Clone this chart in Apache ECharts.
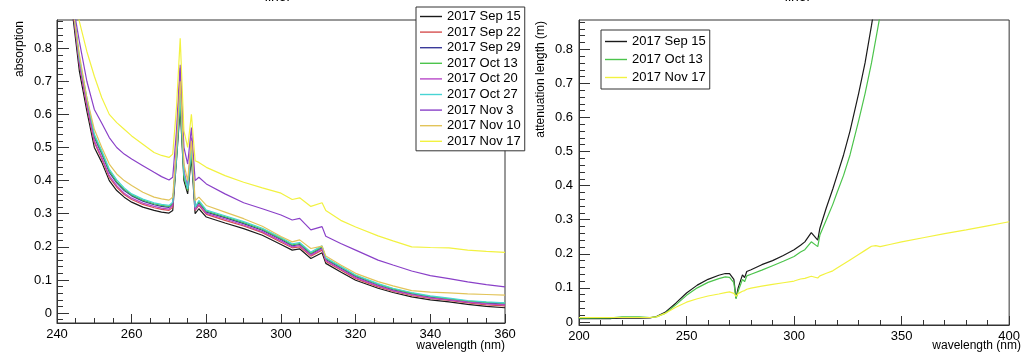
<!DOCTYPE html>
<html lang="en">
<head>
  <meta charset="UTF-8">
  <title>liner</title>
  <script src="https://cdn.jsdelivr.net/npm/echarts@6/dist/echarts.min.js"></script>
  <style>
    html, body { margin: 0; padding: 0; background: #fff; }
    #chart { width: 1023px; height: 353px; }
  </style>
</head>
<body>
  <div id="chart"></div>
  <script>
    // ---- left plot: absorption vs wavelength ----
    const wlLeft = [240, 244, 246, 248, 250, 252, 254, 256, 258, 260, 263, 266, 268, 270, 271, 272, 273, 274, 275, 276, 277, 278, 280, 285, 290, 295, 300, 303, 305, 308, 311, 312, 316, 320, 326, 330, 335, 340, 345, 350, 355, 360];
    const absSep15 = [1.10, 0.92, 0.73, 0.61, 0.50, 0.455, 0.40, 0.37, 0.35, 0.335, 0.32, 0.31, 0.305, 0.302, 0.31, 0.46, 0.62, 0.40, 0.36, 0.47, 0.30, 0.315, 0.29, 0.272, 0.255, 0.235, 0.207, 0.19, 0.194, 0.165, 0.182, 0.15, 0.124, 0.099, 0.075, 0.062, 0.049, 0.040, 0.034, 0.026, 0.020, 0.016];
    const absSep22 = [1.12, 0.94, 0.75, 0.625, 0.515, 0.465, 0.41, 0.38, 0.358, 0.343, 0.328, 0.318, 0.313, 0.31, 0.32, 0.50, 0.74, 0.42, 0.37, 0.52, 0.31, 0.325, 0.298, 0.28, 0.263, 0.243, 0.214, 0.197, 0.2, 0.172, 0.19, 0.156, 0.13, 0.104, 0.079, 0.066, 0.053, 0.044, 0.038, 0.031, 0.025, 0.022];
    const absSep29 = [1.13, 0.95, 0.76, 0.64, 0.53, 0.48, 0.425, 0.393, 0.37, 0.354, 0.338, 0.327, 0.322, 0.319, 0.33, 0.48, 0.68, 0.42, 0.375, 0.50, 0.315, 0.333, 0.305, 0.288, 0.27, 0.25, 0.222, 0.203, 0.207, 0.178, 0.197, 0.162, 0.136, 0.11, 0.084, 0.07, 0.058, 0.048, 0.041, 0.034, 0.03, 0.027];
    const absOct13 = [1.13, 0.95, 0.765, 0.645, 0.535, 0.485, 0.43, 0.397, 0.374, 0.357, 0.341, 0.33, 0.325, 0.322, 0.332, 0.47, 0.65, 0.41, 0.37, 0.49, 0.318, 0.336, 0.308, 0.291, 0.273, 0.253, 0.225, 0.206, 0.21, 0.181, 0.2, 0.165, 0.139, 0.113, 0.087, 0.073, 0.06, 0.05, 0.043, 0.036, 0.032, 0.03];
    const absOct20 = [1.12, 0.94, 0.755, 0.63, 0.52, 0.47, 0.415, 0.385, 0.362, 0.347, 0.332, 0.322, 0.317, 0.314, 0.325, 0.49, 0.72, 0.43, 0.38, 0.53, 0.312, 0.328, 0.301, 0.284, 0.266, 0.246, 0.218, 0.2, 0.204, 0.175, 0.194, 0.159, 0.133, 0.107, 0.082, 0.068, 0.056, 0.046, 0.04, 0.033, 0.028, 0.025];
    const absOct27 = [1.14, 0.96, 0.77, 0.65, 0.54, 0.49, 0.435, 0.402, 0.378, 0.36, 0.344, 0.333, 0.328, 0.325, 0.335, 0.47, 0.66, 0.42, 0.375, 0.50, 0.32, 0.34, 0.311, 0.294, 0.276, 0.256, 0.228, 0.209, 0.213, 0.184, 0.203, 0.167, 0.141, 0.115, 0.089, 0.075, 0.062, 0.052, 0.045, 0.038, 0.034, 0.031];
    const absNov3 = [1.2, 0.95, 0.82, 0.70, 0.615, 0.573, 0.53, 0.50, 0.48, 0.465, 0.445, 0.425, 0.412, 0.402, 0.41, 0.55, 0.75, 0.50, 0.45, 0.56, 0.40, 0.41, 0.39, 0.36, 0.333, 0.315, 0.296, 0.281, 0.286, 0.251, 0.261, 0.232, 0.21, 0.19, 0.16, 0.145, 0.127, 0.113, 0.104, 0.094, 0.086, 0.079];
    const absNov10 = [1.15, 0.94, 0.78, 0.65, 0.555, 0.50, 0.45, 0.42, 0.40, 0.385, 0.365, 0.35, 0.345, 0.341, 0.35, 0.50, 0.70, 0.45, 0.40, 0.52, 0.34, 0.35, 0.325, 0.305, 0.285, 0.262, 0.231, 0.215, 0.221, 0.195, 0.202, 0.172, 0.145, 0.12, 0.095, 0.082, 0.068, 0.063, 0.061, 0.058, 0.056, 0.054];
    const absNov17 = [1.2, 0.99, 0.88, 0.79, 0.715, 0.65, 0.60, 0.575, 0.555, 0.535, 0.51, 0.485, 0.476, 0.47, 0.48, 0.62, 0.83, 0.55, 0.50, 0.60, 0.46, 0.455, 0.44, 0.415, 0.395, 0.378, 0.362, 0.343, 0.348, 0.322, 0.333, 0.31, 0.28, 0.26, 0.233, 0.218, 0.2, 0.198, 0.197, 0.19, 0.186, 0.183];

    // ---- right plot: attenuation length vs wavelength ----
    const wlRight = [200, 215, 220, 228, 233, 236, 240, 245, 250, 255, 260, 265, 268, 270, 272, 273, 274, 276, 277, 278, 280, 285, 290, 295, 300, 303, 305, 308, 311, 312, 315, 318, 320, 323, 326, 330, 333, 336, 338, 340, 345, 350, 360, 370, 380, 390, 400];
    const attSep15 = [0.010, 0.010, 0.011, 0.011, 0.012, 0.016, 0.028, 0.055, 0.085, 0.108, 0.125, 0.137, 0.142, 0.142, 0.125, 0.07, 0.10, 0.138, 0.13, 0.148, 0.153, 0.168, 0.18, 0.195, 0.212, 0.225, 0.235, 0.262, 0.24, 0.275, 0.335, 0.39, 0.43, 0.49, 0.56, 0.67, 0.76, 0.87, 0.95, 1.05, null, null, null, null, null, null, null];
    const attOct13 = [0.011, 0.012, 0.015, 0.015, 0.013, 0.015, 0.025, 0.05, 0.078, 0.10, 0.116, 0.127, 0.132, 0.131, 0.115, 0.068, 0.09, 0.125, 0.118, 0.135, 0.14, 0.152, 0.165, 0.178, 0.192, 0.205, 0.212, 0.235, 0.221, 0.255, 0.30, 0.345, 0.38, 0.43, 0.49, 0.59, 0.67, 0.76, 0.83, 0.90, 1.1, null, null, null, null, null, null];
    const attNov17 = [0.013, 0.013, 0.013, 0.013, 0.013, 0.015, 0.025, 0.043, 0.058, 0.068, 0.076, 0.082, 0.086, 0.088, 0.084, 0.075, 0.083, 0.09, 0.092, 0.096, 0.099, 0.105, 0.11, 0.115, 0.12, 0.126, 0.128, 0.134, 0.129, 0.135, 0.143, 0.15, 0.158, 0.17, 0.182, 0.198, 0.21, 0.222, 0.224, 0.221, 0.228, 0.235, 0.247, 0.259, 0.27, 0.282, 0.294];

    // ---- tick labels ----
    const xTicksLeft = [240, 260, 280, 300, 320, 340, 360];
    const xTicksRight = [200, 250, 300, 350, 400];
    const yTicks = [0, 0.1, 0.2, 0.3, 0.4, 0.5, 0.6, 0.7, 0.8];

    const FONT = 'Liberation Sans';
    const INK = '#333';

    function minorTicks(from, to, step) {
      const out = [];
      for (let v = from; v <= to + 1e-9; v += step) out.push(Math.round(v * 1000) / 1000);
      return out;
    }

    // one axis with labels + long ticks, one overlay with short minor ticks
    function axisPair(dim, grid, min, max, major, minor, longLen, shortLen, margin) {
      const pos = dim === 'x' ? 'bottom' : 'left';
      const main = {
        type: 'value', gridIndex: grid, position: pos, min: min, max: max,
        axisLine: { show: true, onZero: false, lineStyle: { color: INK, width: 1 } },
        axisTick: { show: true, inside: true, length: longLen, customValues: major, lineStyle: { color: INK } },
        axisLabel: {
          customValues: major, margin: margin, color: '#000', fontFamily: FONT, fontSize: 13,
          formatter: v => dim === 'y' ? (v === 0 ? '0' : v.toFixed(1)) : String(v)
        },
        splitLine: { show: false }
      };
      const sub = {
        type: 'value', gridIndex: grid, position: pos, min: min, max: max,
        axisLine: { show: false, onZero: false },
        axisTick: { show: true, inside: true, length: shortLen, customValues: minor, lineStyle: { color: INK } },
        axisLabel: { show: false },
        splitLine: { show: false }
      };
      return [main, sub];
    }

    function line(name, wl, vals, color, axis) {
      return {
        name: name, type: 'line', xAxisIndex: axis, yAxisIndex: axis,
        data: wl.map((x, i) => [x, vals[i]]),
        symbol: 'none', showSymbol: false, clip: true, connectNulls: false,
        lineStyle: { width: 1.2, color: color }, itemStyle: { color: color },
        emphasis: { disabled: true }, animation: false
      };
    }

    const C = {
      sep15: '#1a1a1a', sep22: '#d65050', sep29: '#3a3a9a', oct13: '#4cc44c',
      oct20: '#b848c8', oct27: '#48d4d4', nov3: '#8a40c8', nov10: '#e2c45a', nov17: '#f2f240'
    };

    const leftNames = ['2017 Sep 15', '2017 Sep 22', '2017 Sep 29', '2017 Oct 13', '2017 Oct 20', '2017 Oct 27', '2017 Nov 3', '2017 Nov 10', '2017 Nov 17'];
    const rightNames = ['2017 Sep 15', '2017 Oct 13', '2017 Nov 17'];

    const legendBase = {
      orient: 'vertical', backgroundColor: '#fff', borderColor: INK, borderWidth: 1,
      icon: 'path://M0,0H22V1.4H0Z', itemWidth: 22, itemHeight: 12, align: 'left', selectedMode: false,
      textStyle: { color: '#000', fontFamily: FONT, fontSize: 13, lineHeight: 12 }
    };

    const chart = echarts.init(document.getElementById('chart'));
    const xL = axisPair('x', 0, 240, 360, xTicksLeft, minorTicks(240, 360, 5), 9, 5, 5);
    const yL = axisPair('y', 0, -0.03, 0.885, yTicks, minorTicks(-0.02, 0.88, 0.02), 12, 6, 5);
    const xR = axisPair('x', 1, 200, 400, xTicksRight, minorTicks(200, 400, 10), 9, 5, 5);
    const yR = axisPair('y', 1, -0.009, 0.886, yTicks, minorTicks(0, 0.88, 0.02), 11, 6, 6);

    chart.setOption({
      animation: false,
      grid: [
        { left: 57, top: 20, width: 448, height: 303, show: true, borderColor: INK, borderWidth: 1, backgroundColor: 'transparent' },
        { left: 579, top: 20, width: 442, height: 305, show: true, borderColor: INK, borderWidth: 1, backgroundColor: 'transparent' }
      ],
      xAxis: [...xL, ...xR],
      yAxis: [...yL, ...yR],
      legend: [
        Object.assign({}, legendBase, { data: leftNames, left: 416, top: 7, itemGap: 2.6, padding: [3, 4, 3, 4] }),
        Object.assign({}, legendBase, { data: rightNames, left: 601, top: 30, itemGap: 5, padding: [5, 4, 5, 4] })
      ],
      graphic: [
        { type: 'text', x: 278, y: -10, style: { text: 'liner', fontFamily: FONT, fontSize: 14, fill: '#000', textAlign: 'center', textVerticalAlign: 'top' } },
        { type: 'text', x: 798, y: -10, style: { text: 'liner', fontFamily: FONT, fontSize: 14, fill: '#000', textAlign: 'center', textVerticalAlign: 'top' } },
        { type: 'text', x: 20, y: 21, rotation: Math.PI / 2, style: { text: 'absorption', fontFamily: FONT, fontSize: 12, fill: '#000', textAlign: 'right', textVerticalAlign: 'middle' } },
        { type: 'text', x: 541, y: 21, rotation: Math.PI / 2, style: { text: 'attenuation length (m)', fontFamily: FONT, fontSize: 12, fill: '#000', textAlign: 'right', textVerticalAlign: 'middle' } },
        { type: 'text', x: 505, y: 346, style: { text: 'wavelength (nm)', fontFamily: FONT, fontSize: 12, fill: '#000', textAlign: 'right', textVerticalAlign: 'middle' } },
        { type: 'text', x: 1021, y: 346, style: { text: 'wavelength (nm)', fontFamily: FONT, fontSize: 12, fill: '#000', textAlign: 'right', textVerticalAlign: 'middle' } }
      ],
      series: [
        line('2017 Sep 15', wlLeft, absSep15, C.sep15, 0),
        line('2017 Sep 22', wlLeft, absSep22, C.sep22, 0),
        line('2017 Sep 29', wlLeft, absSep29, C.sep29, 0),
        line('2017 Oct 13', wlLeft, absOct13, C.oct13, 0),
        line('2017 Oct 20', wlLeft, absOct20, C.oct20, 0),
        line('2017 Oct 27', wlLeft, absOct27, C.oct27, 0),
        line('2017 Nov 3', wlLeft, absNov3, C.nov3, 0),
        line('2017 Nov 10', wlLeft, absNov10, C.nov10, 0),
        line('2017 Nov 17', wlLeft, absNov17, C.nov17, 0),
        line('2017 Sep 15', wlRight, attSep15, C.sep15, 2),
        line('2017 Oct 13', wlRight, attOct13, C.oct13, 2),
        line('2017 Nov 17', wlRight, attNov17, C.nov17, 2)
      ]
    });
  </script>
</body>
</html>
